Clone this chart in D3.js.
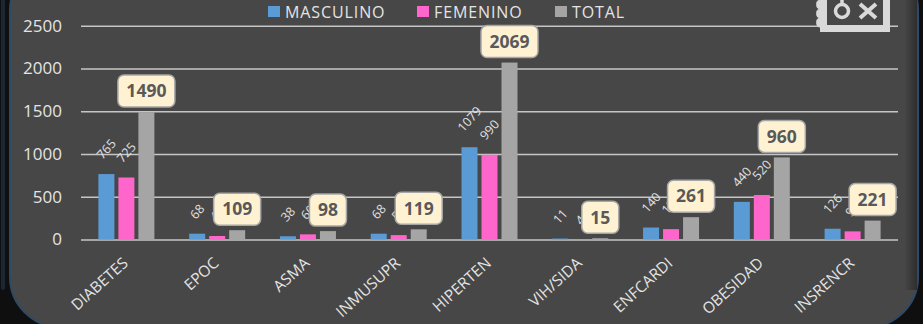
<!DOCTYPE html>
<html>
<head>
<meta charset="utf-8">
<script src="https://cdn.jsdelivr.net/npm/d3@7"></script>
<style>
  html, body { margin: 0; padding: 0; background: #0f0f0f; }
  svg { display: block; }
  svg text { font-family: "Open Sans", sans-serif; }
</style>
</head>
<body>
<svg id="chart" width="923" height="324"></svg>
<script>
const categories = ['DIABETES', 'EPOC', 'ASMA', 'INMUSUPR', 'HIPERTEN', 'VIH/SIDA', 'ENFCARDI', 'OBESIDAD', 'INSRENCR'];
const masculino = [765, 68, 38, 68, 1079, 11, 140, 440, 126];
const femenino = [725, 41, 60, 51, 990, 4, 121, 520, 95];
const total = [1490, 109, 98, 119, 2069, 15, 261, 960, 221];
const seriesNames = ['MASCULINO', 'FEMENINO', 'TOTAL'];
const seriesColors = ['#5b9bd5', '#ff66cc', '#a5a5a5'];
const yTicks = [0, 500, 1000, 1500, 2000, 2500];

const svg = d3.select('#chart');
const plotLeft = 81, plotRight = 898, plotTop = 25.7, plotBottom = 239.5;

// panel behind the chart
const defs = svg.append('defs');
const edge = defs.append('linearGradient').attr('id', 'rightEdge');
edge.append('stop').attr('offset', 0).attr('stop-color', '#474747');
edge.append('stop').attr('offset', 1).attr('stop-color', '#2e2e2e');

svg.append('rect').attr('x', 1).attr('y', -60).attr('width', 4).attr('height', 350)
  .attr('rx', 2).attr('fill', '#1c2733');
svg.append('rect').attr('x', 10).attr('y', -40).attr('width', 908).attr('height', 367)
  .attr('rx', 50).attr('fill', '#474747').attr('stroke', '#2f4a66').attr('stroke-width', 2);
svg.append('rect').attr('x', 904).attr('y', 0).attr('width', 13).attr('height', 290)
  .attr('fill', 'url(#rightEdge)');

const x = d3.scaleBand().domain(categories).range([plotLeft, plotRight]);
const xSeries = d3.scaleBand().domain(seriesNames).range([-30, 30]);
const y = d3.scaleLinear().domain([0, 2500]).range([plotBottom, plotTop]);
const barWidth = 16;

// y axis and gridlines
const yAxis = svg.append('g')
  .attr('transform', `translate(${plotLeft},0)`)
  .call(d3.axisLeft(y).tickValues(yTicks).tickSize(-(plotRight - plotLeft)).tickPadding(19).tickFormat(d3.format('d')));
yAxis.select('.domain').remove();
yAxis.selectAll('.tick line').attr('stroke', '#c6c6c6').attr('stroke-width', 1.6);
yAxis.selectAll('.tick text').attr('fill', '#e4e4e4').attr('font-size', 17).attr('x', -19);

// x axis
const xAxis = svg.append('g')
  .attr('transform', `translate(0,${plotBottom})`)
  .call(d3.axisBottom(x).tickSize(0));
xAxis.select('.domain').remove();
xAxis.selectAll('.tick text')
  .attr('fill', '#e4e4e4')
  .attr('font-size', 15.5)
  .attr('text-anchor', 'end')
  .attr('transform', 'translate(-1,21) rotate(-42)')
  .attr('x', 0).attr('y', 0).attr('dy', '0.35em');

// bars
const values = [masculino, femenino, total];
seriesNames.forEach((name, s) => {
  const g = svg.append('g');
  g.selectAll('rect')
    .data(values[s])
    .enter()
    .append('rect')
    .attr('x', (d, i) => x(categories[i]) + x.bandwidth() / 2 + xSeries(name) + xSeries.bandwidth() / 2 - barWidth / 2)
    .attr('y', d => y(d))
    .attr('width', barWidth)
    .attr('height', d => y(0) - y(d))
    .attr('fill', seriesColors[s]);
});

// rotated labels for masculino and femenino
[0, 1].forEach(s => {
  svg.append('g').selectAll('text')
    .data(values[s])
    .enter()
    .append('text')
    .attr('transform', (d, i) => {
      const cx = x(categories[i]) + x.bandwidth() / 2 + xSeries(seriesNames[s]) + xSeries.bandwidth() / 2;
      return `translate(${cx},${y(d) - (16 + String(d).length * 3)}) rotate(-48)`;
    })
    .attr('text-anchor', 'middle')
    .attr('dy', '0.35em')
    .attr('fill', '#e0e0e0')
    .attr('font-size', 12.5)
    .text(d => d);
});

// callouts for the total
const callout = svg.append('g').selectAll('g')
  .data(total)
  .enter()
  .append('g')
  .attr('transform', (d, i) => {
    const cx = x(categories[i]) + x.bandwidth() / 2 + xSeries('TOTAL') + xSeries.bandwidth() / 2;
    return `translate(${cx},${y(d) - 21})`;
  });
callout.append('rect')
  .attr('x', d => -(String(d).length * 10 + 17) / 2)
  .attr('y', -16)
  .attr('width', d => String(d).length * 10 + 17)
  .attr('height', 32)
  .attr('rx', 6)
  .attr('fill', '#fff2d3')
  .attr('stroke', '#a6a6a6')
  .attr('stroke-width', 1.5);
callout.append('text')
  .attr('text-anchor', 'middle')
  .attr('dy', '0.36em')
  .attr('fill', '#595959')
  .attr('font-size', 17.5)
  .attr('font-weight', 700)
  .text(d => d);

// legend
const legendX = [268, 417, 555];
const legend = svg.append('g').selectAll('g')
  .data(seriesNames)
  .enter()
  .append('g')
  .attr('transform', (d, i) => `translate(${legendX[i]},6)`);
legend.append('rect')
  .attr('width', 12).attr('height', 11)
  .attr('fill', (d, i) => seriesColors[i]);
legend.append('text')
  .attr('x', 17).attr('y', 11.5)
  .attr('fill', '#e4e4e4')
  .attr('font-size', 16)
  .attr('letter-spacing', 0.9)
  .text(d => d);

// stamp icon, top right
const icon = svg.append('g').attr('fill', 'none').attr('stroke', '#d9d9d9');
icon.append('path')
  .attr('d', 'M823.5,-2V28.5H886.5V-2')
  .attr('stroke-width', 7);
icon.append('path')
  .attr('d', 'M820,0a3,4 0 0 0 0,9a3,4 0 0 0 0,9a3,4 0 0 0 0,9')
  .attr('fill', '#d9d9d9').attr('stroke-width', 1);
icon.append('circle').attr('cx', 842).attr('cy', 11).attr('r', 6.5).attr('stroke-width', 3.5);
icon.append('path').attr('d', 'M842,0V5').attr('stroke-width', 3.5);
icon.append('path').attr('d', 'M860,4L876,18M876,4L860,18').attr('stroke-width', 4);
</script>
</body>
</html>
